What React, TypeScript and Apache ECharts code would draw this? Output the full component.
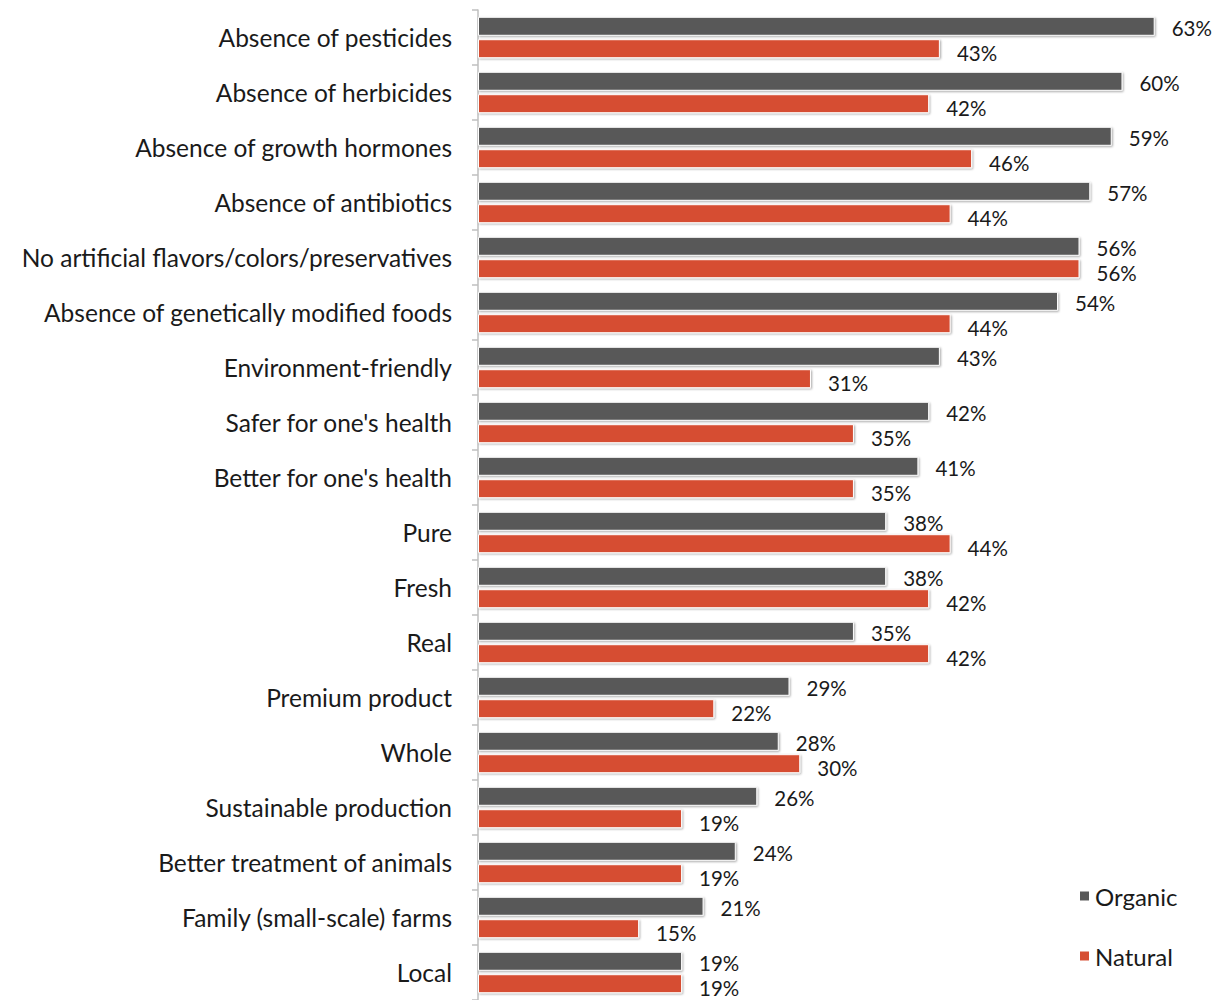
import React, { useEffect, useRef } from "react";
import * as echarts from "echarts";

const categories = [
  "Absence of pesticides",
  "Absence of herbicides",
  "Absence of growth hormones",
  "Absence of antibiotics",
  "No artificial flavors/colors/preservatives",
  "Absence of genetically modified foods",
  "Environment-friendly",
  "Safer for one's health",
  "Better for one's health",
  "Pure",
  "Fresh",
  "Real",
  "Premium product",
  "Whole",
  "Sustainable production",
  "Better treatment of animals",
  "Family (small-scale) farms",
  "Local",
];
const organic = [63, 60, 59, 57, 56, 54, 43, 42, 41, 38, 38, 35, 29, 28, 26, 24, 21, 19];
const natural = [43, 42, 46, 44, 56, 44, 31, 35, 35, 44, 42, 42, 22, 30, 19, 19, 15, 19];

const FONT = "Lato, 'Open Sans', sans-serif";

export default function App() {
  const ref = useRef<HTMLDivElement>(null);
  useEffect(() => {
    const chart = echarts.init(ref.current!, null, { renderer: "svg" });
    const barStyle = (color: string) => ({
      color,
      borderColor: "#ffffff",
      borderWidth: 1,
      shadowColor: "rgba(0,0,0,0.35)",
      shadowBlur: 2,
      shadowOffsetX: 1,
      shadowOffsetY: 1,
    });
    const label = (dy: number) => ({
      show: true,
      position: "right" as const,
      distance: 17,
      offset: [0, dy],
      formatter: "{c}%",
      color: "#1a1a1a",
      fontSize: 20.5,
      lineHeight: 19,
      fontFamily: FONT,
    });
    chart.setOption({
      animation: false,
      backgroundColor: "#ffffff",
      grid: { left: 478, top: 10, right: 0, height: 990, containLabel: false },
      legend: {
        orient: "vertical",
        left: 1073,
        top: 879,
        itemGap: 36,
        itemWidth: 11,
        itemHeight: 11,
        icon: "rect",
        textStyle: { fontSize: 24, fontFamily: FONT, color: "#1a1a1a" },
        data: ["Organic", "Natural"],
      },
      xAxis: {
        type: "value",
        min: 0,
        max: 68.8,
        show: false,
      },
      yAxis: {
        type: "category",
        inverse: true,
        data: categories,
        axisLine: { show: true, lineStyle: { color: "#bfbfbf", width: 1.5 } },
        axisTick: { show: true, length: 6, lineStyle: { color: "#bfbfbf", width: 1.5 } },
        axisLabel: {
          margin: 26,
          fontSize: 24.5,
          fontFamily: FONT,
          color: "#1a1a1a",
        },
      },
      series: [
        {
          name: "Organic",
          type: "bar",
          data: organic,
          barWidth: 19,
          barGap: "18%",
          itemStyle: barStyle("#595959"),
          label: label(2),
        },
        {
          name: "Natural",
          type: "bar",
          data: natural,
          barWidth: 19,
          barGap: "18%",
          itemStyle: barStyle("#d64e33"),
          label: label(4),
        },
      ],
    });
    return () => chart.dispose();
  }, []);
  return (
    <div
      ref={ref}
      style={{ position: "fixed", left: 0, top: 0, width: 1217, height: 1000, background: "#fff" }}
    />
  );
}
